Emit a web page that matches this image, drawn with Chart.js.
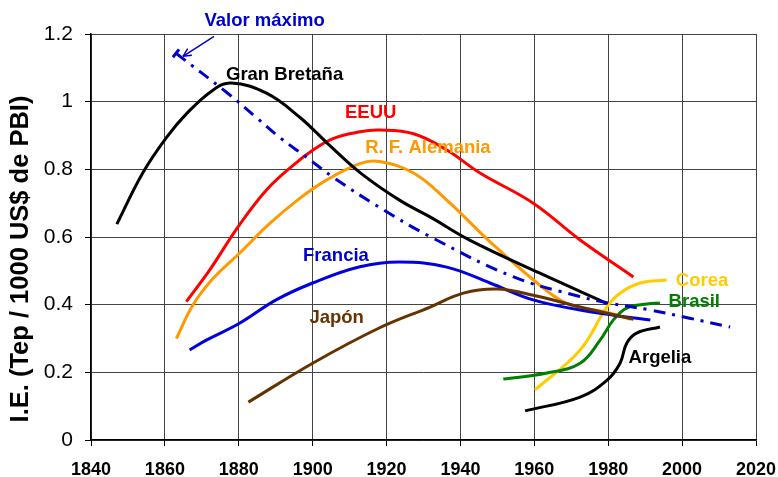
<!DOCTYPE html>
<html>
<head>
<meta charset="utf-8">
<script src="https://cdn.jsdelivr.net/npm/chart.js@4.4.1/dist/chart.umd.min.js"></script>
<style>
  body { margin: 0; background: #fff; }
  canvas { display: block; }
</style>
</head>
<body>
<canvas id="chart" width="778" height="477"></canvas>
<script>
// valores (año, intensidad energética)
const gbYears = [1847, 1854, 1860.5, 1866, 1873, 1878, 1887.5, 1896.5, 1904, 1913, 1923.5, 1932, 1942.5, 1961.5, 1979.6];
const gbVals = [0.638, 0.789, 0.895, 0.966, 1.034, 1.055, 1.025, 0.954, 0.877, 0.789, 0.709, 0.658, 0.591, 0.493, 0.404];

const usaYears = [1865.8, 1872.1, 1879.8, 1887.5, 1894.7, 1900.1, 1905.5, 1912.8, 1918, 1927.3, 1936.3, 1945.3, 1959.7, 1972.4, 1986.8];
const usaVals = [0.409, 0.502, 0.630, 0.739, 0.812, 0.857, 0.891, 0.911, 0.916, 0.905, 0.857, 0.789, 0.70, 0.591, 0.482];

const rfaYears = [1863.1, 1867.6, 1873, 1880.2, 1888.4, 1896.5, 1903.7, 1912.8, 1918, 1927.3, 1936.3, 1947.5, 1959.8, 1968.8, 1979.7, 1986];
const rfaVals = [0.300, 0.399, 0.477, 0.552, 0.640, 0.714, 0.768, 0.817, 0.823, 0.789, 0.709, 0.591, 0.473, 0.404, 0.377, 0.357];

const fraYears = [1866.7, 1871.2, 1880.2, 1890.1, 1900, 1912.8, 1923.6, 1936.3, 1948, 1959.7, 1972.4, 1981.4, 1991.4];
const fraVals = [0.266, 0.295, 0.345, 0.414, 0.464, 0.512, 0.526, 0.511, 0.464, 0.414, 0.384, 0.369, 0.355];

const jpYears = [1882.6, 1900, 1918, 1931.8, 1940.8, 1950, 1959.7, 1972.4, 1986.8];
const jpVals = [0.112, 0.227, 0.331, 0.393, 0.434, 0.446, 0.428, 0.393, 0.357];

const maxYears = [1863, 1877, 1885, 1891, 1898.3, 1905.5, 1918, 1932, 1954.4, 1972, 1980, 1991, 2002, 2013];
const maxVals = [1.143, 1.025, 0.951, 0.895, 0.836, 0.777, 0.688, 0.60, 0.482, 0.425, 0.405, 0.385, 0.36, 0.334];

const korYears = [1960.2, 1972.4, 1979.6, 1983.2, 1988.6, 1995.8];
const korVals = [0.148, 0.266, 0.393, 0.434, 0.464, 0.473];

const braYears = [1951.6, 1963.4, 1972.4, 1977.8, 1981.4, 1985, 1990.5, 1994];
const braVals = [0.18, 0.198, 0.227, 0.295, 0.355, 0.39, 0.402, 0.405];

const argYears = [1957.5, 1972.4, 1979.7, 1983.2, 1985, 1987.7, 1994];
const argVals = [0.086, 0.127, 0.177, 0.227, 0.286, 0.316, 0.334];

const xTicks = [1840, 1860, 1880, 1900, 1920, 1940, 1960, 1980, 2000, 2020];
const yTicks = [0, 0.2, 0.4, 0.6, 0.8, 1, 1.2];

// etiquetas sobre el gráfico (en coordenadas de datos)
const labels = [
    { text: 'Valor máximo', x: 1887, y: 1.238, color: '#0000CC' },
    { text: 'Gran Bretaña', x: 1892.4, y: 1.078, color: '#000000' },
    { text: 'EEUU', x: 1915.7, y: 0.966, color: '#FF0000' },
    { text: 'R. F. Alemania', x: 1931.2, y: 0.863, color: '#FF9900' },
    { text: 'Francia', x: 1906.3, y: 0.544, color: '#0000CC' },
    { text: 'Japón', x: 1906.5, y: 0.36, color: '#663300' },
    { text: 'Corea', x: 2005.4, y: 0.47, color: '#FFCC00' },
    { text: 'Brasil', x: 2003.3, y: 0.408, color: '#008000' },
    { text: 'Argelia', x: 1994, y: 0.242, color: '#000000' }
];

function pts(xs, ys) {
    return xs.map((x, i) => ({ x: x, y: ys[i] }));
}

function serie(label, xs, ys, color, extra) {
    return Object.assign({
        label: label,
        data: pts(xs, ys),
        borderColor: color,
        borderWidth: 3,
        pointRadius: 0,
        fill: false,
        tension: 0.4
    }, extra || {});
}

const labelPlugin = {
    id: 'labelPlugin',
    afterDatasetsDraw(chart) {
        const ctx = chart.ctx;
        const xs = chart.scales.x;
        const ys = chart.scales.y;
        ctx.save();
        ctx.font = 'bold 18.5px "Liberation Sans", Arial, sans-serif';
        ctx.textAlign = 'center';
        ctx.textBaseline = 'middle';
        labels.forEach(l => {
            ctx.fillStyle = l.color;
            ctx.fillText(l.text, xs.getPixelForValue(l.x), ys.getPixelForValue(l.y));
        });

        // flecha de "Valor máximo"
        const ax1 = xs.getPixelForValue(1873.3), ay1 = ys.getPixelForValue(1.193);
        const ax2 = xs.getPixelForValue(1864.9), ay2 = ys.getPixelForValue(1.134);
        ctx.strokeStyle = '#0000CC';
        ctx.fillStyle = '#0000CC';
        ctx.lineWidth = 1.5;
        ctx.beginPath();
        ctx.moveTo(ax1, ay1);
        ctx.lineTo(ax2, ay2);
        ctx.stroke();
        const ang = Math.atan2(ay2 - ay1, ax2 - ax1);
        ctx.beginPath();
        ctx.moveTo(ax2, ay2);
        ctx.lineTo(ax2 - 9 * Math.cos(ang - 0.45), ay2 - 9 * Math.sin(ang - 0.45));
        ctx.moveTo(ax2, ay2);
        ctx.lineTo(ax2 - 9 * Math.cos(ang + 0.45), ay2 - 9 * Math.sin(ang + 0.45));
        ctx.stroke();

        // tope al inicio de la línea de valor máximo
        const sx = xs.getPixelForValue(maxYears[0]), sy = ys.getPixelForValue(maxVals[0]);
        const nx = xs.getPixelForValue(maxYears[1]), ny = ys.getPixelForValue(maxVals[1]);
        const a = Math.atan2(ny - sy, nx - sx) + Math.PI / 2;
        ctx.lineWidth = 3;
        ctx.beginPath();
        ctx.moveTo(sx - 5 * Math.cos(a), sy - 5 * Math.sin(a));
        ctx.lineTo(sx + 5 * Math.cos(a), sy + 5 * Math.sin(a));
        ctx.stroke();

        // título del eje Y
        ctx.save();
        ctx.translate(21, 259);
        ctx.rotate(-Math.PI / 2);
        ctx.fillStyle = '#000';
        ctx.font = 'bold 25.5px "Liberation Sans", Arial, sans-serif';
        ctx.fillText('I.E. (Tep / 1000 US$ de PBI)', 0, 0);
        ctx.restore();
        ctx.restore();
    }
};

const ctx = document.getElementById('chart').getContext('2d');
const myChart = new Chart(ctx, {
    type: 'line',
    data: {
        datasets: [
            serie('Valor máximo', maxYears, maxVals, '#0000CC', { borderDash: [12, 7, 3, 7] }),
            serie('Japón', jpYears, jpVals, '#663300'),
            serie('Francia', fraYears, fraVals, '#0000DD'),
            serie('Gran Bretaña', gbYears, gbVals, '#000000'),
            serie('R. F. Alemania', rfaYears, rfaVals, '#FF9900'),
            serie('EEUU', usaYears, usaVals, '#FF0000'),
            serie('Argelia', argYears, argVals, '#000000'),
            serie('Brasil', braYears, braVals, '#008000'),
            serie('Corea', korYears, korVals, '#FFCC00')
        ]
    },
    options: {
        responsive: false,
        animation: false,
        layout: { padding: { top: 34, right: 22, left: 0, bottom: 0 } },
        plugins: {
            legend: { display: false },
            tooltip: { enabled: false }
        },
        scales: {
            x: {
                type: 'linear',
                min: 1840,
                max: 2020,
                afterBuildTicks: s => { s.ticks = xTicks.map(v => ({ value: v })); },
                afterFit: s => { s.height = 37; s.paddingLeft = 0; s.paddingRight = 0; },
                ticks: {
                    color: '#000',
                    padding: 13,
                    maxRotation: 0,
                    font: { family: '"Liberation Sans", Arial, sans-serif', size: 18, weight: 'bold' },
                    callback: v => String(v)
                },
                grid: { color: '#444', lineWidth: 1, tickLength: 6, tickColor: '#000' },
                border: { color: '#000', width: 1.5 }
            },
            y: {
                min: 0,
                max: 1.2,
                afterBuildTicks: s => { s.ticks = yTicks.map(v => ({ value: v })); },
                afterFit: s => { s.width = 91; s.paddingTop = 0; s.paddingBottom = 0; },
                ticks: {
                    color: '#000',
                    padding: 12,
                    font: { family: '"Liberation Sans", Arial, sans-serif', size: 21 },
                    callback: v => String(+v.toFixed(1))
                },
                grid: { color: '#444', lineWidth: 1, tickLength: 6, tickColor: '#000' },
                border: { color: '#000', width: 1.5 }
            }
        }
    },
    plugins: [labelPlugin]
});
</script>
</body>
</html>
